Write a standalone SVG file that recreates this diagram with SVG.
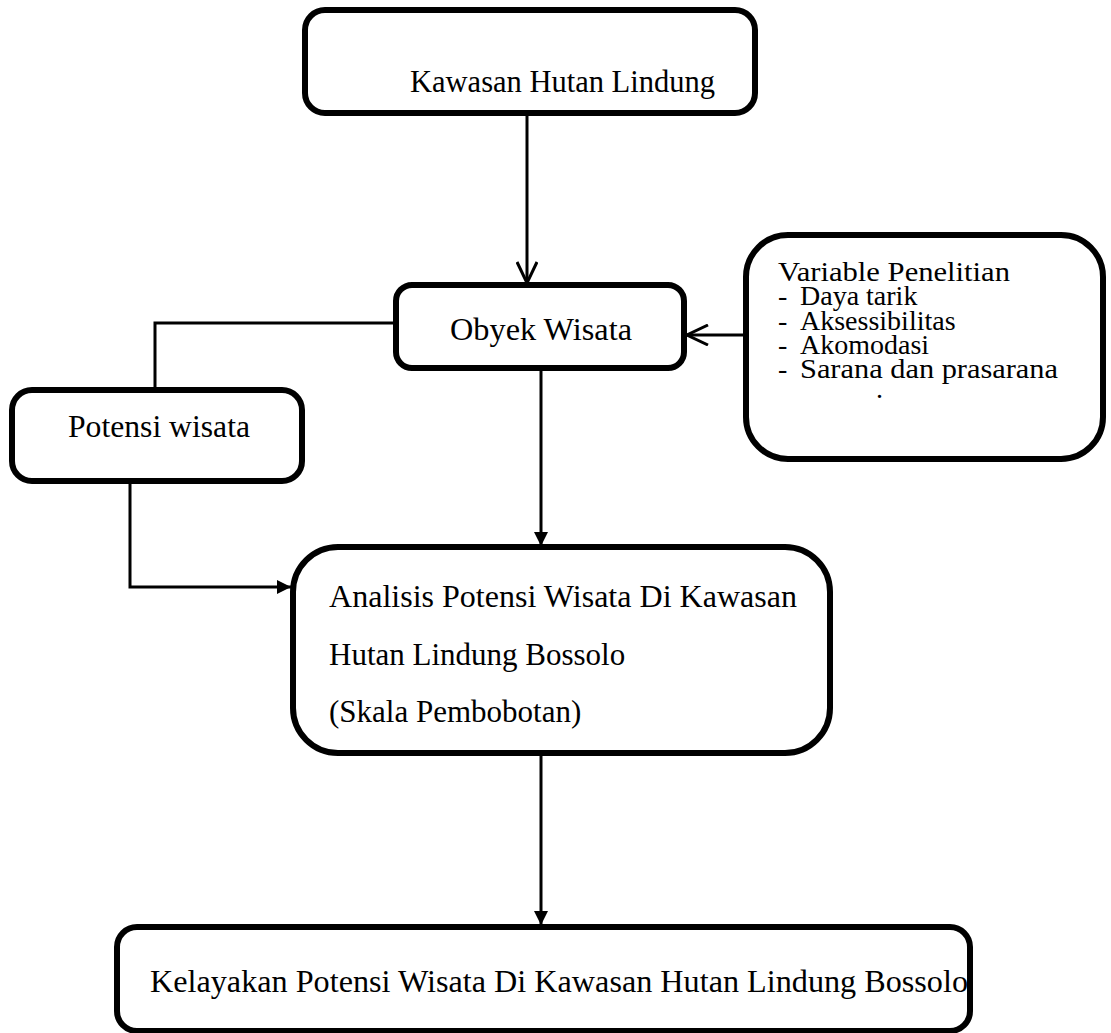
<svg xmlns="http://www.w3.org/2000/svg" width="1111" height="1033" viewBox="0 0 1111 1033">
<style>
.box{fill:#fff;stroke:#000;stroke-width:6}
.ln{fill:none;stroke:#000;stroke-width:3}
text{font-family:"Liberation Serif","Times New Roman",serif;font-size:31px;fill:#000}
.sm{font-size:28px}
</style>
<defs>
<marker id="open" viewBox="0 0 24 22" refX="22" refY="11" markerWidth="24" markerHeight="22" markerUnits="userSpaceOnUse" orient="auto">
<path d="M1,1 L22,11 L1,21" fill="none" stroke="#000" stroke-width="3"/>
</marker>
<marker id="fill" viewBox="0 0 14 14" refX="14" refY="7" markerWidth="14" markerHeight="14" markerUnits="userSpaceOnUse" orient="auto">
<path d="M0,0 L14,7 L0,14 z" fill="#000"/>
</marker>
</defs>
<rect width="1111" height="1033" fill="#fff"/>
<g id="connectors">
<path class="ln" d="M527,113 L527,283" marker-end="url(#open)"/>
<path class="ln" d="M746,335 L687,335" marker-end="url(#open)"/>
<path class="ln" d="M396,323 L155,323 L155,390"/>
<path class="ln" d="M130,481 L130,587 L291,587" marker-end="url(#fill)"/>
<path class="ln" d="M541,368 L541,546" marker-end="url(#fill)"/>
<path class="ln" d="M541,753 L541,925" marker-end="url(#fill)"/>
</g>
<g id="kawasan">
<rect class="box" x="305" y="10" width="450" height="103" rx="20"/>
<text x="410" y="92" textLength="305" lengthAdjust="spacingAndGlyphs">Kawasan Hutan Lindung</text>
</g>
<g id="obyek">
<rect class="box" x="396" y="285" width="288" height="83" rx="16"/>
<text x="450" y="340" textLength="182" lengthAdjust="spacingAndGlyphs">Obyek Wisata</text>
</g>
<g id="variable">
<rect class="box" x="746" y="235" width="357" height="224" rx="42"/>
<text class="sm"><tspan x="778" y="281" textLength="232" lengthAdjust="spacingAndGlyphs">Variable Penelitian</tspan><tspan x="778" y="305">-</tspan><tspan x="800" y="305">Daya tarik</tspan><tspan x="778" y="330">-</tspan><tspan x="800" y="330">Aksessibilitas</tspan><tspan x="778" y="354">-</tspan><tspan x="800" y="354">Akomodasi</tspan><tspan x="778" y="378">-</tspan><tspan x="800" y="378" textLength="258" lengthAdjust="spacingAndGlyphs">Sarana dan prasarana</tspan><tspan x="876" y="398">.</tspan></text>
</g>
<g id="potensi">
<rect class="box" x="12" y="390" width="290" height="91" rx="20"/>
<text x="68" y="437" textLength="182" lengthAdjust="spacingAndGlyphs">Potensi wisata</text>
</g>
<g id="analisis">
<rect class="box" x="293" y="547" width="537" height="206" rx="45"/>
<text x="329" y="607" textLength="468" lengthAdjust="spacingAndGlyphs">Analisis Potensi Wisata Di Kawasan</text>
<text x="329" y="665">Hutan Lindung Bossolo</text>
<text x="329" y="722">(Skala Pembobotan)</text>
</g>
<g id="kelayakan">
<rect class="box" x="117" y="927" width="853" height="104" rx="20"/>
<text x="150" y="992" textLength="818" lengthAdjust="spacingAndGlyphs">Kelayakan Potensi Wisata Di Kawasan Hutan Lindung Bossolo</text>
</g>
</svg>
